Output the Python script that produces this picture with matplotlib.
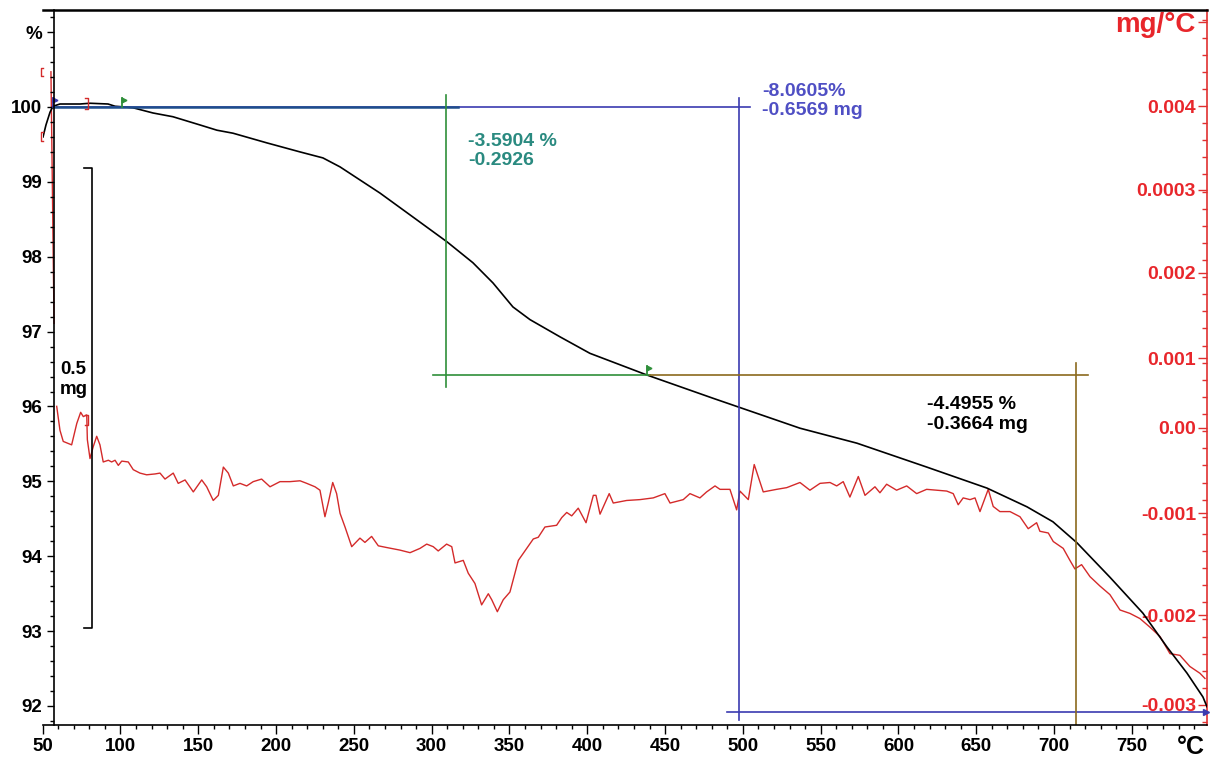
import matplotlib.pyplot as plt
from matplotlib.ticker import MultipleLocator
import matplotlib.transforms as mtransforms
import numpy as np

plt.rcParams['font.family'] = ['Liberation Sans', 'DejaVu Sans']
plt.rcParams['font.weight'] = 'bold'

# ---- TGA curve: temperature (°C) / mass (%) ----
tga_temp = [50.2, 52.1, 54.7, 56.6, 61.1, 74.0, 80.4, 92.0, 96.5, 102.9, 108.0, 120.9,
            133.7, 151.1, 162.0, 172.3, 194.2, 215.4, 230.1, 241.1, 266.8, 288.0, 309.8,
            326.5, 339.4, 352.2, 363.2, 382.5, 401.7, 438.4, 480.8, 536.7, 573.3, 618.3,
            656.9, 682.6, 699.3, 714.7, 735.9, 757.1, 772.5, 785.4, 795.7, 798.3]
tga_pct = [99.60, 99.76, 99.93, 100.01, 100.04, 100.04, 100.05, 100.04, 100.01, 100.0,
           99.99, 99.92, 99.87, 99.76, 99.69, 99.65, 99.52, 99.40, 99.32, 99.20, 98.85,
           98.53, 98.20, 97.92, 97.65, 97.33, 97.16, 96.93, 96.71, 96.42, 96.11, 95.71,
           95.51, 95.19, 94.91, 94.66, 94.46, 94.18, 93.72, 93.24, 92.79, 92.44, 92.12, 91.99]

# ---- DTG curve: temperature (°C) / 1e-3 mg/°C (nan splits the start spike) ----
dtg_temp = [55.3, 57.3, np.nan,
            59.0, 61.1, 63.2, 68.6, 71.9, 74.4, 76.1, 78.3, 78.7, 80.4, 82.5, 84.7, 86.8,
            88.9, 92.2, 94.3, 96.5, 98.6, 100.8, 105.0, 108.2, 112.5, 116.8, 122.2, 125.4,
            128.6, 133.9, 137.1, 141.5, 146.8, 152.2, 155.4, 159.6, 162.9, 166.1, 169.3,
            172.5, 176.8, 181.1, 185.3, 190.7, 196.1, 202.5, 208.9, 215.4, 219.7, 225.0,
            228.2, 231.4, 233.5, 236.4, 238.9, 241.1, 244.3, 248.6, 253.9, 257.1, 261.4,
            265.7, 271.1, 279.6, 286.1, 292.5, 296.8, 301.0, 304.2, 309.6, 312.9, 315.0,
            320.3, 323.5, 327.8, 332.1, 336.4, 338.6, 342.2, 346.0, 350.3, 355.7, 361.1,
            365.3, 368.5, 372.8, 380.3, 383.6, 386.8, 390.0, 394.2, 399.2, 403.9, 405.6,
            408.2, 414.1, 416.7, 425.3, 433.9, 442.4, 449.9, 453.2, 461.7, 466.0, 472.4,
            476.7, 482.1, 485.3, 491.7, 496.0, 498.1, 503.5, 507.3, 513.1, 521.7, 528.2,
            536.7, 543.1, 549.6, 556.0, 560.3, 564.5, 568.8, 574.2, 578.5, 584.9, 588.1,
            592.4, 598.8, 605.3, 611.7, 618.1, 624.5, 631.0, 635.2, 638.4, 641.6, 646.0,
            649.2, 652.4, 657.7, 660.9, 665.2, 671.7, 678.1, 683.4, 688.8, 690.9, 696.3,
            699.5, 705.9, 710.2, 713.4, 717.7, 723.1, 729.5, 735.9, 742.4, 748.8, 755.2,
            761.6, 768.1, 774.5, 780.9, 787.3, 793.8, 797.0]
dtg_val = [4.40, 1.46, np.nan,
           0.49, 0.21, 0.08, 0.04, 0.29, 0.42, 0.37, 0.39, 0.10, -0.12, 0.02, 0.14, 0.04,
           -0.16, -0.14, -0.16, -0.14, -0.20, -0.15, -0.16, -0.25, -0.29, -0.31, -0.30, -0.29,
           -0.36, -0.29, -0.41, -0.37, -0.51, -0.37, -0.45, -0.61, -0.55, -0.22, -0.29,
           -0.44, -0.41, -0.44, -0.39, -0.36, -0.45, -0.39, -0.39, -0.38, -0.41, -0.45,
           -0.49, -0.80, -0.64, -0.40, -0.53, -0.76, -0.92, -1.15, -1.05, -1.10, -1.03,
           -1.14, -1.16, -1.19, -1.22, -1.17, -1.12, -1.15, -1.20, -1.12, -1.15, -1.34,
           -1.31, -1.46, -1.58, -1.83, -1.70, -1.77, -1.91, -1.77, -1.68, -1.31, -1.17,
           -1.06, -1.04, -0.92, -0.90, -0.81, -0.75, -0.79, -0.70, -0.87, -0.55, -0.55,
           -0.77, -0.53, -0.64, -0.61, -0.60, -0.58, -0.53, -0.64, -0.60, -0.53, -0.58,
           -0.51, -0.44, -0.48, -0.48, -0.72, -0.50, -0.60, -0.19, -0.51, -0.48, -0.46,
           -0.40, -0.49, -0.41, -0.40, -0.44, -0.39, -0.57, -0.33, -0.55, -0.45, -0.52,
           -0.42, -0.49, -0.44, -0.53, -0.48, -0.49, -0.50, -0.53, -0.66, -0.58, -0.60,
           -0.58, -0.74, -0.48, -0.68, -0.74, -0.74, -0.80, -0.94, -0.87, -0.97, -0.99,
           -1.09, -1.17, -1.31, -1.41, -1.36, -1.50, -1.61, -1.71, -1.89, -1.93, -1.99,
           -2.09, -2.20, -2.40, -2.42, -2.55, -2.63, -2.69]

# ---- axis ticks ----
x_ticks = [50, 100, 150, 200, 250, 300, 350, 400, 450, 500, 550, 600, 650, 700, 750]
left_ticks = [92, 93, 94, 95, 96, 97, 98, 99, 100, 101]
left_labels = ['92', '93', '94', '95', '96', '97', '98', '99', '100', '%']
# printed positions of the right-hand labels (the original scale is not evenly spaced)
right_ticks = [4.0, 3.02, 2.05, 1.05, 0.24, -0.76, -1.95, -3.0, 4.98]
right_labels = ['0.004', '0.0003', '0.002', '0.001', '0.00', '-0.001', '-0.002', '-0.003', 'mg/°C']

# ---- step evaluation results ----
step1_text = '-3.5904 %\n-0.2926'
total_text = '-8.0605%\n-0.6569 mg'
step2_text = '-4.4955 %\n-0.3664 mg'
scale_text = '0.5\nmg'
start_pct = 100.0
step1_pct = 96.42
end_pct = 91.92

RED = '#d42a2a'
RED_TXT = '#e8262b'
GREEN = '#2f8f3a'
TEAL = '#2a8a80'
BROWN = '#8b6a1e'
BLUE = '#3b3bb0'
NAVY = '#1f4e8c'
BLUE_TXT = '#4f4fc4'

fig = plt.figure(figsize=(12.11, 7.61), dpi=100, facecolor='white')
ax = fig.add_axes([0.03526, 0.04731, 0.96143, 0.93955])
ax2 = ax.twinx()
ax.set_zorder(ax2.get_zorder() + 1)
ax.patch.set_visible(False)

ax.set_xlim(50, 798.3)
ax.set_ylim(91.746, 101.2955)
ax2.set_ylim(-3.234, 5.122)

# curves
ax2.plot(dtg_temp, dtg_val, color=RED, lw=1.0)
ax.plot(tga_temp, tga_pct, color='black', lw=1.2)

# spines
ax.spines['left'].set_position(('data', 57.3))
ax.spines['right'].set_visible(False)
for s in ['left', 'top', 'bottom']:
    ax2.spines[s].set_visible(False)
ax2.spines['right'].set_color('#e03030')
ax2.spines['right'].set_linewidth(1.2)
ax.spines['top'].set_linewidth(1.8)
ax.spines['left'].set_linewidth(1.2)
ax.spines['bottom'].set_linewidth(1.2)

# x axis
ax.set_xticks(x_ticks)
ax.xaxis.set_minor_locator(MultipleLocator(10))
ax.tick_params(axis='x', which='major', direction='out', length=6.5, width=1, labelsize=13.5, pad=3)
ax.tick_params(axis='x', which='minor', direction='out', length=3, width=1)
ax.tick_params(top=False, right=False)
trans_x = mtransforms.blended_transform_factory(ax.transData, ax.transAxes)
ax.text(788, -0.031, '°C', transform=trans_x, fontsize=18, ha='center', va='center')

# left axis
ax.tick_params(axis='y', which='major', direction='out', length=5, width=1, labelsize=13.5, pad=3.5)
ax.tick_params(axis='y', which='minor', direction='out', length=3.2, width=1)
ax.set_yticks(left_ticks, left_labels)
ax.yaxis.set_minor_locator(MultipleLocator(0.2))

# right axis (labels inside)
ax2.tick_params(axis='y', which='major', direction='in', length=6.5, width=1,
                colors='#e03030', labelsize=14, pad=-8)
ax2.tick_params(axis='y', which='minor', direction='in', length=3.5, width=1, colors='#e03030')
ax2.set_yticks(right_ticks, right_labels, ha='right')
ax2.yaxis.set_minor_locator(MultipleLocator(0.2))
for lbl in ax2.get_yticklabels():
    lbl.set_color(RED_TXT)
ax2.get_yticklabels()[-1].set_fontsize(20)

# step lines
ax.plot([57.3, 504.5], [start_pct, start_pct], color=BLUE, lw=1.2)
ax.plot([57.3, 316.9], [start_pct, start_pct], color=NAVY, lw=1.8)
ax.plot([497.4, 497.4], [100.12, 91.81], color=BLUE, lw=1.2)
ax.plot([489.7, 798.3], [end_pct, end_pct], color=BLUE, lw=1.2)
ax.plot([309.2, 309.2], [100.16, 96.26], color=GREEN, lw=1.2)
ax.plot([300.8, 440.3], [step1_pct, step1_pct], color=GREEN, lw=1.2)
ax.plot([440.3, 721.8], [step1_pct, step1_pct], color=BROWN, lw=1.2)
ax.plot([714.1, 714.1], [96.58, 91.746], color=BROWN, lw=1.2)

# small flags on the evaluation limits
for fx, fy, fc in [(56.6, start_pct, BLUE), (101.0, start_pct, GREEN), (438.4, step1_pct, GREEN)]:
    ax.plot([fx, fx], [fy, fy + 0.12], color=fc, lw=1.3)
    ax.plot(fx + 1.2, fy + 0.09, marker='>', ms=3.5, color=fc, clip_on=False)
ax.plot(797.5, end_pct, marker='>', ms=4, color=BLUE, clip_on=False)

# range brackets (red) and mass scale bar (black)
def bracket(x_stem, x_hook, y_top, y_bot, color, lw=1.0):
    ax.plot([x_hook, x_stem, x_stem, x_hook], [y_top, y_top, y_bot, y_bot],
            color=color, lw=lw, clip_on=False)

bracket(48.6, 50.4, 100.52, 100.41, RED)
bracket(48.6, 50.4, 99.67, 99.55, RED)
bracket(78.8, 77.2, 100.12, 99.97, RED)
bracket(78.8, 77.0, 95.89, 95.75, RED)
bracket(81.7, 76.5, 99.19, 93.04, 'black', lw=1.2)

# texts
ax.text(323.3, 99.41, step1_text, color=TEAL, fontsize=14, ha='left', va='center')
ax.text(512.3, 100.08, total_text, color=BLUE_TXT, fontsize=14, ha='left', va='center')
ax.text(618.3, 95.89, step2_text, color='black', fontsize=14, ha='left', va='center')
ax.text(61.1, 96.36, scale_text, color='black', fontsize=13.5, ha='left', va='center')

fig.savefig('out.png', dpi=100, facecolor='white')
